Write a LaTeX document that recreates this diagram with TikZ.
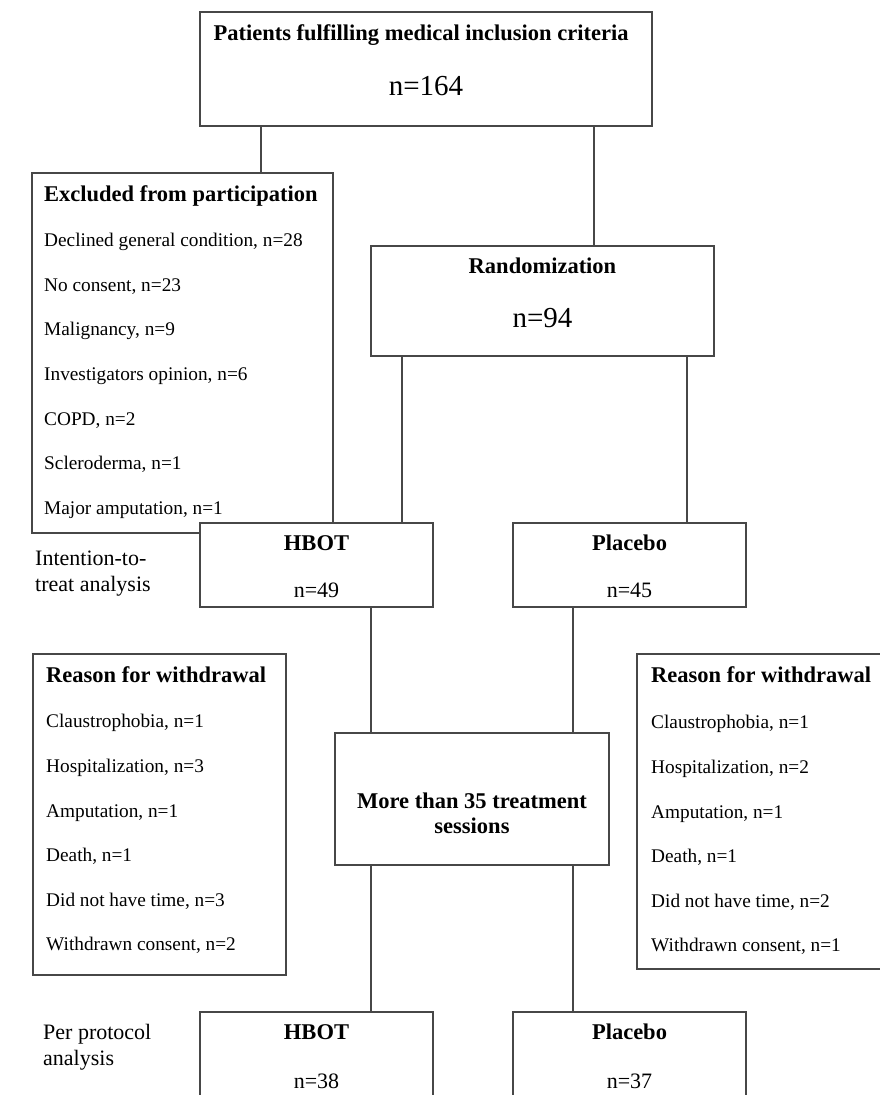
\documentclass[tikz,border=0pt]{standalone}
\usepackage{fontspec}
\setmainfont{Liberation Serif}
\tikzset{
  box/.style={draw=black!72, line width=1.3pt, fill=white, rectangle, inner sep=0pt},
  conn/.style={draw=black!72, line width=1.3pt},
  ttl/.style={font=\fontsize{22.5}{26}\selectfont\bfseries, inner sep=0pt, anchor=base},
  ttlw/.style={font=\fontsize{22.5}{26}\selectfont\bfseries, inner sep=0pt, anchor=base west},
  bign/.style={font=\fontsize{29}{34}\selectfont, inner sep=0pt, anchor=base},
  midn/.style={font=\fontsize{22}{26}\selectfont, inner sep=0pt, anchor=base},
  lbl/.style={font=\fontsize{22}{26}\selectfont, inner sep=0pt, anchor=base west},
  item/.style={font=\fontsize{19.3}{23}\selectfont, inner sep=0pt, anchor=base west}
}
\begin{document}
\begin{tikzpicture}[x=1pt,y=-1pt]
\useasboundingbox (0,0) rectangle (880,1095);
\clip (0,0) rectangle (880,1095);
\fill[white] (0,0) rectangle (880,1095);

% boxes
\node[box, minimum width=452pt, minimum height=114pt] (top) at (426,69) {};
\node[box, minimum width=301pt, minimum height=360pt] (excl) at (182.5,353) {};
\node[box, minimum width=343pt, minimum height=110pt] (rand) at (542.5,301) {};
\node[box, minimum width=233pt, minimum height=84pt] (itthbot) at (316.5,565) {};
\node[box, minimum width=233pt, minimum height=84pt] (ittplac) at (629.5,565) {};
\node[box, minimum width=253pt, minimum height=321pt] (wleft) at (159.5,814.5) {};
\node[box, minimum width=258pt, minimum height=315pt] (wright) at (766,811.5) {};
\node[box, minimum width=274pt, minimum height=132pt] (more) at (472,799) {};
\node[box, minimum width=233pt, minimum height=118pt] (pphbot) at (316.5,1071) {};
\node[box, minimum width=233pt, minimum height=118pt] (ppplac) at (629.5,1071) {};

% connectors
\coordinate (c1) at ([xshift=-165pt]top.south);
\coordinate (c2) at ([xshift=168pt]top.south);
\coordinate (c3) at ([xshift=-140.5pt]rand.south);
\coordinate (c4) at ([xshift=144.5pt]rand.south);
\coordinate (c5) at ([xshift=54.5pt]itthbot.south);
\coordinate (c6) at ([xshift=-56.5pt]ittplac.south);
\coordinate (c7) at ([xshift=-101pt]more.south);
\coordinate (c8) at ([xshift=101pt]more.south);
\draw[conn] (c1) -- (c1 |- excl.north);
\draw[conn] (c2) -- (c2 |- rand.north);
\draw[conn] (c3) -- (c3 |- itthbot.north);
\draw[conn] (c4) -- (c4 |- ittplac.north);
\draw[conn] (c5) -- (c5 |- more.north);
\draw[conn] (c6) -- (c6 |- more.north);
\draw[conn] (c7) -- (c7 |- pphbot.north);
\draw[conn] (c8) -- (c8 |- ppplac.north);

% top
\node[ttl] (toptitle) at (421,40) {Patients fulfilling medical inclusion criteria};
\node[bign] (topn) at (426,95) {n=164};

% excluded
\node[ttlw] (exclt) at (44,201) {Excluded from participation};
\node[item] (e1) at (44,246) {Declined general condition, n=28};
\node[item] (e2) at (44,291) {No consent, n=23};
\node[item] (e3) at (44,335) {Malignancy, n=9};
\node[item] (e4) at (44,380) {Investigators opinion, n=6};
\node[item] (e5) at (44,425) {COPD, n=2};
\node[item] (e6) at (44,469) {Scleroderma, n=1};
\node[item] (e7) at (44,514) {Major amputation, n=1};

% randomization
\node[ttl] (randt) at (542.5,273) {Randomization};
\node[bign] (randn) at (542.5,327) {n=94};

% ITT
\node[lbl] (ittl1) at (35,565) {Intention-to-};
\node[lbl] (ittl2) at (35,591) {treat analysis};
\node[ttl] (itthbott) at (316.5,550) {HBOT};
\node[midn] (itthbotn) at (316.5,597) {n=49};
\node[ttl] (ittplact) at (629.5,550) {Placebo};
\node[midn] (ittplacn) at (629.5,597) {n=45};

% withdrawal left
\node[ttlw] (wlt) at (46,682) {Reason for withdrawal};
\node[item] (wl1) at (46,727) {Claustrophobia, n=1};
\node[item] (wl2) at (46,772) {Hospitalization, n=3};
\node[item] (wl3) at (46,817) {Amputation, n=1};
\node[item] (wl4) at (46,861) {Death, n=1};
\node[item] (wl5) at (46,906) {Did not have time, n=3};
\node[item] (wl6) at (46,950) {Withdrawn consent, n=2};

% withdrawal right
\node[ttlw] (wrt) at (651,682) {Reason for withdrawal};
\node[item] (wr1) at (651,728) {Claustrophobia, n=1};
\node[item] (wr2) at (651,773) {Hospitalization, n=2};
\node[item] (wr3) at (651,818) {Amputation, n=1};
\node[item] (wr4) at (651,862) {Death, n=1};
\node[item] (wr5) at (651,907) {Did not have time, n=2};
\node[item] (wr6) at (651,951) {Withdrawn consent, n=1};

% more than 35
\node[ttl] (moret1) at (472,808) {More than 35 treatment};
\node[ttl] (moret2) at (472,833) {sessions};

% per protocol
\node[lbl] (ppl1) at (43,1039) {Per protocol};
\node[lbl] (ppl2) at (43,1065) {analysis};
\node[ttl] (pphbott) at (316.5,1039) {HBOT};
\node[midn] (pphbotn) at (316.5,1088) {n=38};
\node[ttl] (ppplact) at (629.5,1039) {Placebo};
\node[midn] (ppplacn) at (629.5,1088) {n=37};
\end{tikzpicture}
\end{document}
